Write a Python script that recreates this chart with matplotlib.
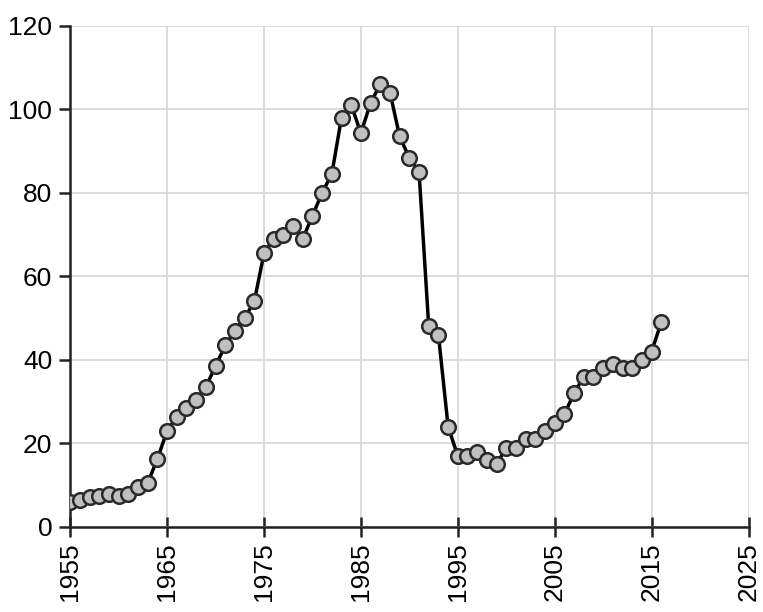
import matplotlib
matplotlib.use("Agg")
import matplotlib.pyplot as plt

# yearly values
years = list(range(1955, 2017))
values = [6, 6.5, 7.2, 7.3, 8, 7.5, 8, 9.5, 10.5, 16.3,
          23, 26.3, 28.5, 30.3, 33.5, 38.5, 43.5, 47, 50, 54,
          65.5, 69, 70, 72, 69, 74.5, 80, 84.5, 98, 101,
          94.3, 101.5, 106, 104, 93.5, 88.3, 85, 48, 46, 24,
          17, 17, 18, 16, 15, 19, 19, 21, 21, 23,
          25, 27, 32, 36, 36, 38, 39, 38, 38, 40,
          42, 49]
x_ticks = list(range(1955, 2026, 10))
y_ticks = list(range(0, 121, 20))

plt.rcParams['font.family'] = ['Liberation Sans', 'DejaVu Sans']

fig = plt.figure(figsize=(7.63, 6.12), dpi=100)
ax = fig.add_axes([0.092, 0.139, 0.889, 0.819])

ax.plot(years, values, color='black', linewidth=2.5, marker='o',
        markersize=10.5, markerfacecolor='#c0c0c0',
        markeredgecolor='#2a2a2a', markeredgewidth=1.8, zorder=3)

ax.set_xlim(1955, 2025)
ax.set_ylim(0, 120)
ax.set_xticks(x_ticks)
ax.set_yticks(y_ticks)
ax.set_xticklabels([str(t) for t in x_ticks], rotation=90)
ax.grid(True, color='#d9d9d9', linewidth=1.3)
ax.set_axisbelow(True)

for s in ['top', 'right']:
    ax.spines[s].set_visible(False)
for s in ['left', 'bottom']:
    ax.spines[s].set_linewidth(1.8)
    ax.spines[s].set_color('#222222')

ax.tick_params(axis='y', direction='out', length=8, width=1.8,
               color='#222222', labelsize=19, pad=5)
ax.tick_params(axis='x', direction='inout', length=14, width=1.8,
               color='#222222', labelsize=19, pad=4)

fig.savefig('out.png', dpi=100)
